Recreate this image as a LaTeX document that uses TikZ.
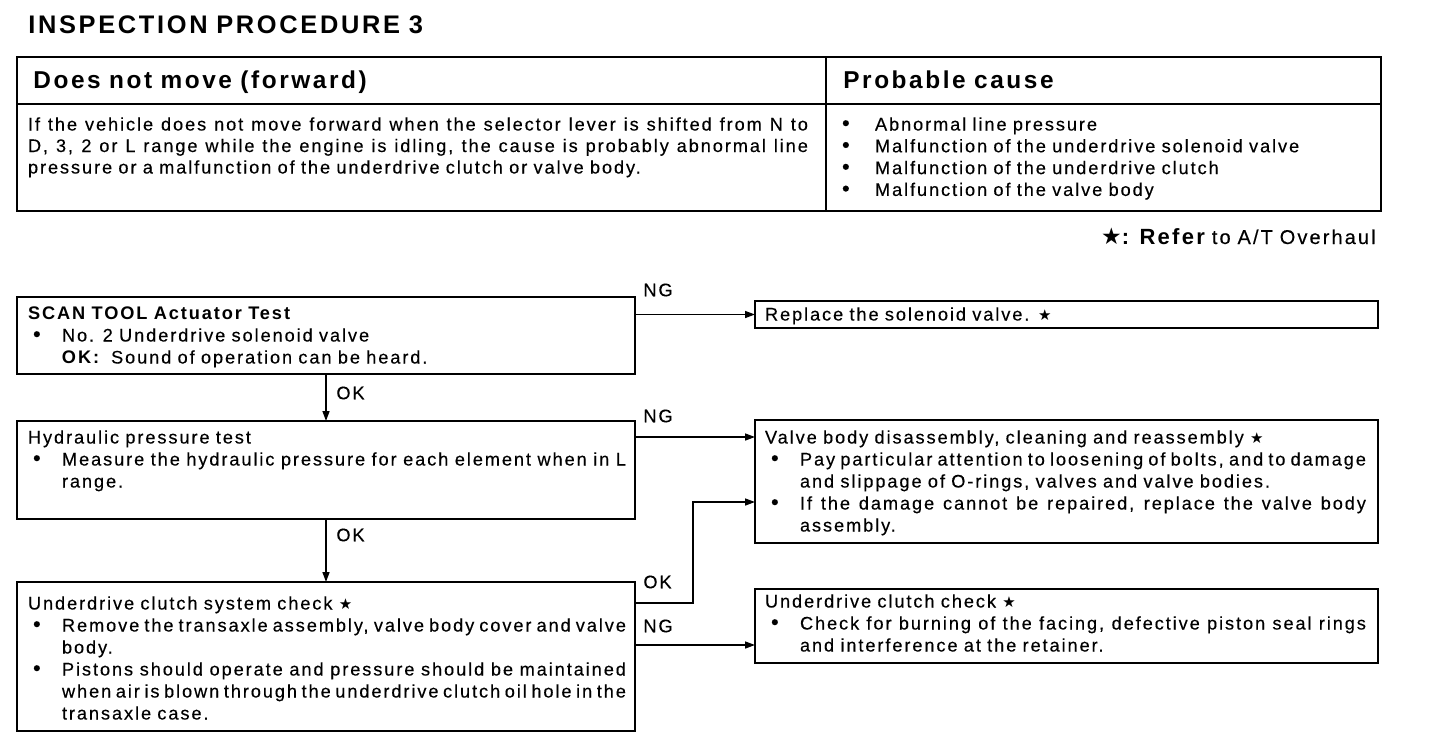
\documentclass[tikz,border=0pt]{standalone}
\usepackage{fontspec}
\setmainfont{Liberation Sans}[LetterSpace=10.5, WordSpace=0.9, UprightFeatures={FakeBold=0.3}]
\newfontfamily\symf{DejaVu Sans}
\usetikzlibrary{arrows.meta,fit,calc}
\newcommand\smstar{{\symf\fontsize{7.5}{9}\selectfont ★}}
\newcommand\bigbul{{\fontsize{11}{11}\selectfont\textbullet}}
\newcommand\bpar[3]{{\hangindent=#2\hangafter=1\noindent\makebox[#2][l]{\hspace{#1}\bigbul}#3\par}}
\hyphenpenalty=10000
\begin{document}
\begin{tikzpicture}[x=0.5pt,y=-0.5pt,
  box/.style={draw, line width=1pt, inner sep=0pt, outer sep=0pt},
  txt/.style={anchor=base west, inner sep=0pt, outer sep=0pt, align=justify,
    font=\fontsize{9.1}{11}\selectfont},
  lbl/.style={anchor=west, inner sep=0pt, font=\fontsize{9.1}{11}\selectfont},
  arr/.style={draw, line width=0.75pt, -{Triangle[length=5pt,width=3.5pt]}}]
\useasboundingbox (0,0) rectangle (1440,734);
% title
\node[anchor=base west, inner sep=0pt, font=\fontsize{12.7}{15}\selectfont\bfseries] (title) at (28,33) {INSPECTION PROCEDURE 3};
% table
\node[box, fit={(17,57)(1381,211)}] (tbl) {};
\coordinate (hl) at (17,104);
\coordinate (hr) at (1381,104);
\coordinate (ct) at (826,57);
\coordinate (cb) at (826,211);
\draw[line width=1pt] (hl) -- (hr);
\draw[line width=0.75pt] (ct) -- (cb);
\node[anchor=base west, inner sep=0pt, font=\fontsize{12.2}{14}\selectfont\bfseries] (h1) at (33,88) {Does not move (forward)};
\node[anchor=base west, inner sep=0pt, font=\fontsize{12.2}{14}\selectfont\bfseries] (h2) at (843,88) {Probable cause};
\node[txt, text width=390pt, font=\fontsize{9.1}{10.75}\selectfont] (desc) at (28,130.5) {If the vehicle does not move forward when the selector lever is shifted from N to\linebreak D, 3, 2 or L range while the engine is idling, the cause is probably abnormal line\linebreak pressure or a malfunction of the underdrive clutch or valve body.};
\node[txt, text width=264pt, font=\fontsize{9.1}{10.9}\selectfont] (causes) at (842,130.5) {\bpar{0pt}{16.5pt}{Abnormal line pressure}\bpar{0pt}{16.5pt}{Malfunction of the underdrive solenoid valve}\bpar{0pt}{16.5pt}{Malfunction of the underdrive clutch}\bpar{0pt}{16.5pt}{Malfunction of the valve body}};
% legend
\node[anchor=base east, inner sep=0pt] (legend) at (1376,244) {{\symf\fontsize{11.5}{13}\selectfont ★}{\fontsize{11}{12}\selectfont\bfseries: Refer} {\fontsize{10}{12}\selectfont to A/T Overhaul}};
% flow boxes
\node[box, fit={(17,297)(635,374)}] (b1) {};
\node[box, fit={(17,421)(635,519)}] (b2) {};
\node[box, fit={(17,582)(635,731)}] (b3) {};
\node[box, fit={(755,301)(1378,328)}] (rA) {};
\node[box, fit={(755,420)(1378,543)}] (rB) {};
\node[box, fit={(755,589)(1378,663)}] (rC) {};
% box texts
\node[txt, text width=300pt] (t1) at (28,319.5) {{\bfseries SCAN TOOL Actuator Test}\par\bpar{2.5pt}{17pt}{No. 2 Underdrive solenoid valve\\\textbf{OK:}\hspace{5pt}Sound of operation can be heard.}};
\node[txt, text width=299pt] (t2) at (28,443.5) {Hydraulic pressure test\par\bpar{2.5pt}{17pt}{Measure the hydraulic pressure for each element when in L\linebreak range.}};
\node[txt, text width=299pt] (t3) at (28,609.5) {Underdrive clutch system check \smstar\par\bpar{2.5pt}{17pt}{Remove the transaxle assembly, valve body cover and valve\linebreak body.}\bpar{2.5pt}{17pt}{Pistons should operate and pressure should be maintained\linebreak when air is blown through the underdrive clutch oil hole in the\linebreak transaxle case.}};
\node[txt, text width=300pt] (tA) at (765,320.5) {Replace the solenoid valve. \smstar};
\node[txt, text width=300.5pt] (tB) at (765,443.5) {Valve body disassembly, cleaning and reassembly \smstar\par\bpar{3pt}{17.5pt}{Pay particular attention to loosening of bolts, and to damage\linebreak and slippage of O-rings, valves and valve bodies.}\bpar{3pt}{17.5pt}{If the damage cannot be repaired, replace the valve body\linebreak assembly.}};
\node[txt, text width=300.5pt] (tC) at (765,607.5) {Underdrive clutch check \smstar\par\bpar{3pt}{17.5pt}{Check for burning of the facing, defective piston seal rings\linebreak and interference at the retainer.}};
% connectors
\draw[arr] (b1.east |- rA.west) -- (rA.west);
\draw[arr] (b1.south) -- (b2.north);
\draw[arr] ([yshift=-8pt]b2.north east) -- ([yshift=-8pt]b2.north east -| rB.west);
\draw[arr] (b2.south) -- (b3.north);
\coordinate (kOK) at (693,502);
\draw[arr] ([yshift=-10.5pt]b3.north east) -| (kOK) -- (kOK -| rB.west);
\draw[arr] ([yshift=-31.5pt]b3.north east) -- ([yshift=-31.5pt]b3.north east -| rC.west);
% labels
\node[lbl] (ng1) at (643,290) {NG};
\node[lbl] (ok1) at (336,393) {OK};
\node[lbl] (ng2) at (643,416) {NG};
\node[lbl] (ok2) at (336,535) {OK};
\node[lbl] (ok3) at (643,582) {OK};
\node[lbl] (ng3) at (643,626) {NG};
\end{tikzpicture}
\end{document}
